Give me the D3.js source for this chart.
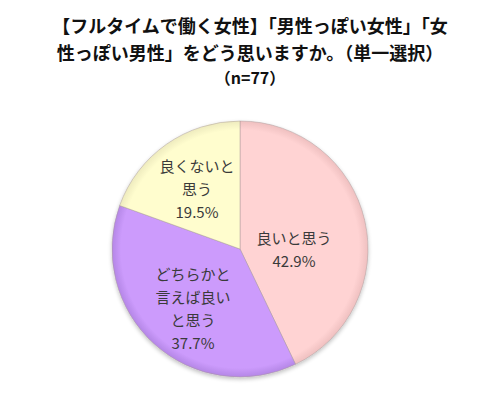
<!DOCTYPE html>
<html>
<head>
<meta charset="utf-8">
<script src="https://cdn.jsdelivr.net/npm/d3@7"></script>
<style>
html,body{margin:0;padding:0;background:#fff;}
svg{display:block;}
</style>
</head>
<body>
<svg id="chart" width="484" height="400"></svg>
<script>
const titleLines = ["【フルタイムで働く女性】「男性っぽい女性」「女", "性っぽい男性」をどう思いますか。（単一選択）", "（n=77）"];
const categories = ["良いと思う", "どちらかと言えば良いと思う", "良くないと思う"];
const values = [42.9, 37.7, 19.5];
const labelLines = [["良いと思う"], ["どちらかと", "言えば良い", "と思う"], ["良くないと", "思う"]];
const colors = ["#FFD3D3", "#CC9BFC", "#FFFDCE"];
const edgeColors = ["#EFC0C0", "#B486E6", "#EEEBBE"];

const svg = d3.select("#chart");
const font = "'Noto Sans CJK JP', 'Noto Sans', sans-serif";

// Title
const title = svg.append("g");
[[25, 18], [52, 18], [77, 16]].forEach(([y, fs], i) => {
  title.append("text")
    .attr("x", 250).attr("y", y)
    .attr("text-anchor", "middle").attr("dominant-baseline", "central")
    .attr("font-family", font).attr("font-weight", "bold")
    .attr("font-size", fs).attr("fill", "#111")
    .text(titleLines[i]);
});

const cx = 240, cy = 249, r = 128;
const defs = svg.append("defs");
colors.forEach((c, i) => {
  const g = defs.append("radialGradient").attr("id", "g" + i)
    .attr("gradientUnits", "userSpaceOnUse")
    .attr("cx", 0).attr("cy", 0).attr("r", r);
  g.append("stop").attr("offset", "0%").attr("stop-color", c);
  g.append("stop").attr("offset", "93%").attr("stop-color", c);
  g.append("stop").attr("offset", "100%").attr("stop-color", edgeColors[i]);
});
const shadow = defs.append("filter").attr("id", "sh").attr("x", "-20%").attr("y", "-20%").attr("width", "140%").attr("height", "140%");
shadow.append("feGaussianBlur").attr("in", "SourceAlpha").attr("stdDeviation", 2);
shadow.append("feOffset").attr("dx", 0).attr("dy", 2).attr("result", "b");
shadow.append("feComponentTransfer").append("feFuncA").attr("type", "linear").attr("slope", 0.25);
const m = shadow.append("feMerge");
m.append("feMergeNode");
m.append("feMergeNode").attr("in", "SourceGraphic");

const pie = d3.pie().sort(null).value(d => d)(values);
const arc = d3.arc().innerRadius(0).outerRadius(r);
const g = svg.append("g").attr("transform", `translate(${cx},${cy})`).attr("filter", "url(#sh)");
g.selectAll("path").data(pie).join("path")
  .attr("d", arc)
  .attr("fill", (d, i) => `url(#g${i})`)
  .attr("stroke", "#a89a9a").attr("stroke-opacity", 0.6).attr("stroke-width", 0.8);

// labels
const labelPos = [[294, 237], [193, 273], [197, 165]];
const lh = 23;
pie.forEach((d, i) => {
  const lines = labelLines[i].concat([d3.format(".1f")(values[i]) + "%"]);
  lines.forEach((t, k) => {
    svg.append("text")
      .attr("x", labelPos[i][0]).attr("y", labelPos[i][1] + k * lh)
      .attr("text-anchor", "middle").attr("dominant-baseline", "central")
      .attr("font-family", font).attr("font-size", 15).attr("fill", "#3a3a3a")
      .text(t);
  });
});
</script>
</body>
</html>
